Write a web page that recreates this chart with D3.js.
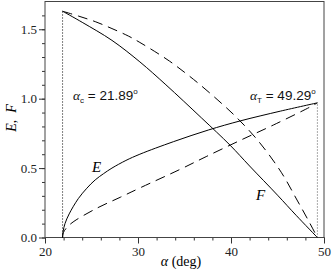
<!DOCTYPE html>
<html>
<head>
<meta charset="utf-8">
<script src="https://cdn.jsdelivr.net/npm/d3@7"></script>
<style>
  body { margin: 0; background: #fff; }
  svg { display: block; }
</style>
</head>
<body>
<div id="chart"></div>
<script>
// critical / total-reflection angles (deg)
const alphaC = 21.89;
const alphaT = 49.29;

// E and F, solid and dashed
const eSolid = [[21.89,0],[21.95,0.045],[22.15,0.10],[22.6,0.17],[23.58,0.28],[24.5,0.355],[25.4,0.415],[26.3,0.46],[27.2,0.50],[28.7,0.555],[30.2,0.60],[33.8,0.69],[37.6,0.775],[41,0.84],[45.3,0.91],[49.29,0.97]];
const eDashed = [[21.89,0],[21.97,0.035],[22.7,0.095],[25.4,0.205],[28.1,0.29],[30.3,0.36],[34.5,0.49],[37.4,0.585],[41,0.70],[44.55,0.81],[48.5,0.94],[49.29,0.97]];
const fSolid = [[21.89,1.63],[24,1.55],[27.2,1.42],[30.2,1.265],[33,1.10],[36.85,0.86],[39.9,0.665],[42,0.515],[45,0.305],[47,0.16],[49.29,0]];
const fDashed = [[21.89,1.63],[23.6,1.595],[25.4,1.555],[27.2,1.505],[29,1.45],[30.2,1.405],[31.8,1.34],[33.4,1.27],[35,1.19],[36.5,1.11],[38.5,0.995],[40.6,0.865],[43,0.69],[45.4,0.47],[47.1,0.27],[48.3,0.125],[49.29,0]];

const xTicks = [20, 30, 40, 50];
const yTicks = [0.0, 0.5, 1.0, 1.5];

const width = 332, height = 271;
const margin = { top: 1.5, right: 8, bottom: 33.5, left: 45 };
const serif = "Liberation Serif, Times New Roman, serif";

const svg = d3.select("#chart").append("svg")
  .attr("width", width)
  .attr("height", height);

const x = d3.scaleLinear().domain([20, 50]).range([margin.left, width - margin.right]);
const y = d3.scaleLinear().domain([0, 1.7]).range([height - margin.bottom, margin.top]);

// minor ticks first
svg.append("g")
  .attr("transform", `translate(0,${y(0)})`)
  .call(d3.axisBottom(x).tickValues(d3.range(20, 50.1, 2)).tickSize(3).tickFormat(""))
  .call(g => g.select(".domain").remove());
svg.append("g")
  .attr("transform", `translate(${x(20)},0)`)
  .call(d3.axisLeft(y).tickValues(d3.range(0, 1.65, 0.1)).tickSize(3).tickFormat(""))
  .call(g => g.select(".domain").remove());

// major ticks + labels
svg.append("g")
  .attr("transform", `translate(0,${y(0)})`)
  .call(d3.axisBottom(x).tickValues(xTicks).tickSize(6).tickPadding(3).tickFormat(d3.format("d")))
  .call(g => g.select(".domain").remove());
svg.append("g")
  .attr("transform", `translate(${x(20)},0)`)
  .call(d3.axisLeft(y).tickValues(yTicks).tickSize(6).tickPadding(2).tickFormat(d3.format(".1f")))
  .call(g => g.select(".domain").remove());

svg.selectAll(".tick line").attr("stroke", "#333");
svg.selectAll(".tick text")
  .attr("font-family", serif)
  .attr("font-size", 13)
  .attr("fill", "#222");

// frame
svg.append("rect")
  .attr("x", x(20)).attr("y", y(1.7))
  .attr("width", x(50) - x(20)).attr("height", y(0) - y(1.7))
  .attr("fill", "none").attr("stroke", "#444").attr("stroke-width", 1);

// dotted markers at the two angles
svg.append("line")
  .attr("x1", x(alphaC)).attr("x2", x(alphaC))
  .attr("y1", y(0)).attr("y2", y(1.63))
  .attr("stroke", "#000").attr("stroke-dasharray", "1,2");
svg.append("line")
  .attr("x1", x(alphaT)).attr("x2", x(alphaT))
  .attr("y1", y(0)).attr("y2", y(0.97))
  .attr("stroke", "#555").attr("stroke-dasharray", "1,2");

const line = d3.line()
  .x(d => x(d[0]))
  .y(d => y(d[1]))
  .curve(d3.curveCatmullRom.alpha(0.5));

[[eSolid, null], [fSolid, null], [eDashed, "10,6"], [fDashed, "10,6"]].forEach(([data, dash]) => {
  svg.append("path")
    .datum(data)
    .attr("d", line)
    .attr("fill", "none")
    .attr("stroke", "#000")
    .attr("stroke-width", 1)
    .attr("stroke-dasharray", dash);
});

// annotations
function angleLabel(px, py, sub, val) {
  const t = svg.append("text")
    .attr("x", px).attr("y", py)
    .attr("font-family", "Liberation Sans, Arial, sans-serif")
    .attr("font-size", 13.5)
    .attr("fill", "#111");
  t.append("tspan").attr("font-family", serif).attr("font-style", "italic").text("α");
  t.append("tspan").attr("font-size", 8).attr("dy", 3).text(sub);
  t.append("tspan").attr("dy", -3).text(" = " + val);
  t.append("tspan").attr("font-size", 8).attr("dy", -6).text("o");
}
angleLabel(73, 100, "c", "21.89");
angleLabel(250, 100, "T", "49.29");

svg.append("text").attr("x", 92).attr("y", 172)
  .attr("font-family", serif).attr("font-style", "italic").attr("font-size", 15).text("E");
svg.append("text").attr("x", 256).attr("y", 200)
  .attr("font-family", serif).attr("font-style", "italic").attr("font-size", 15).text("F");

// axis titles
const xt = svg.append("text")
  .attr("x", 181).attr("y", 266)
  .attr("text-anchor", "middle")
  .attr("font-family", serif).attr("font-size", 14);
xt.append("tspan").attr("font-style", "italic").text("α");
xt.append("tspan").text("  (deg)");

svg.append("text")
  .attr("transform", "translate(16,118) rotate(-90)")
  .attr("text-anchor", "middle")
  .attr("font-family", serif).attr("font-style", "italic").attr("font-size", 14)
  .attr("xml:space", "preserve")
  .text("E,  F");
</script>
</body>
</html>
